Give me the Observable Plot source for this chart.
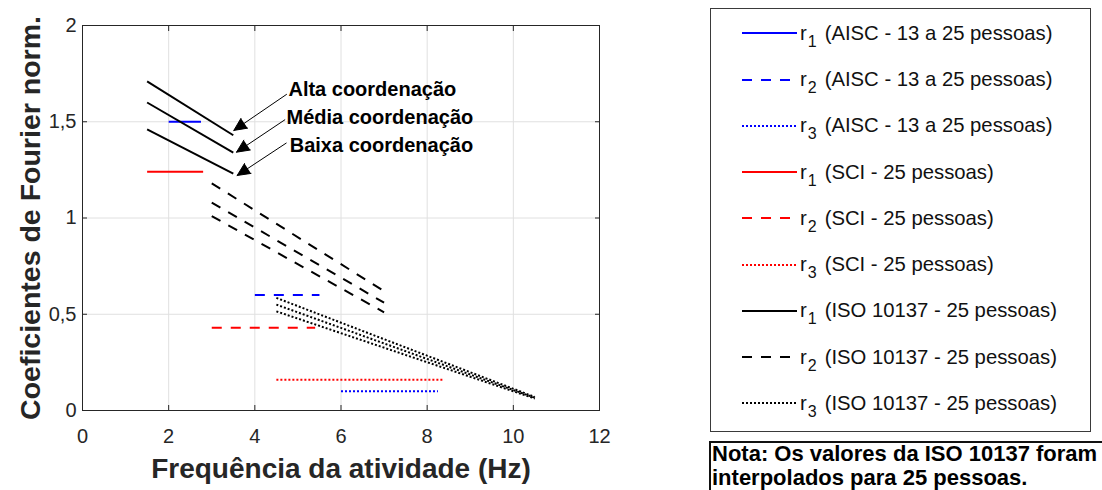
<!DOCTYPE html>
<html><head><meta charset="utf-8">
<script src="https://cdn.jsdelivr.net/npm/d3@7"></script>
<script src="https://cdn.jsdelivr.net/npm/@observablehq/plot@0.6"></script>
<style>
body{margin:0;background:#fff;font-family:"Liberation Sans",Arial,Helvetica,sans-serif;}
#wrap{position:relative;width:1102px;height:490px;overflow:hidden;background:#fff;}
#chart{position:absolute;left:0;top:0;}
#legend{position:absolute;left:710px;top:8px;width:381px;height:424px;border:1px solid #3a3a3a;box-sizing:border-box;background:#fff;}
.row{position:absolute;left:30px;height:46px;display:flex;align-items:center;white-space:nowrap;color:#111;font-size:20.3px;}
.row svg{display:block;margin-right:3px;}
.sub{position:relative;top:7px;font-size:16px;margin-left:1px;margin-right:8px;}
#note{position:absolute;left:709px;top:441px;width:440px;height:60px;border:2px solid #111;box-sizing:border-box;font-weight:bold;font-size:22px;line-height:24px;color:#000;white-space:nowrap;}
#note div{position:relative;top:-1px;left:1px;}
</style></head>
<body><div id="wrap"><div id="chart"></div><div id="legend"></div><div id="note"></div></div>
<script>
// ---- data ----
const xTicks = [0, 2, 4, 6, 8, 10, 12];
const yTicks = [0, 0.5, 1, 1.5, 2];
const xLabel = "Frequência da atividade (Hz)";
const yLabel = "Coeficientes de Fourier norm.";

// AISC (13 a 25 pessoas): faixa de frequência por harmônico e coeficiente
const aiscFreq = [[2, 2.75], [4, 5.5], [6, 8.25]];
const aiscCoef = [1.5, 0.6, 0.1];
// SCI (25 pessoas)
const sciFreq = [[1.5, 2.8], [3, 5.4], [4.5, 8.4]];
const sciCoef = [1.24, 0.43, 0.16];
// ISO 10137 (25 pessoas): frequência inicial/final e coeficientes por nível de coordenação
const isoFreq = [[1.5, 3.5], [3, 7], [4.5, 10.5]];
const isoAlta  = [[1.71, 1.43], [1.18, 0.62], [0.585, 0.07]];
const isoMedia = [[1.60, 1.34], [1.08, 0.56], [0.55, 0.066]];
const isoBaixa = [[1.46, 1.23], [1.01, 0.51], [0.515, 0.062]];

// annotations (data units)
const annLabels = ["Alta coordenação", "Média coordenação", "Baixa coordenação"];
const annX = [4.78, 4.735, 4.81];
const annY = [1.669, 1.522, 1.374];
const arrowFromX = [4.735, 4.696, 4.728];
const arrowFromY = [1.642, 1.510, 1.389];
const arrowToX = [3.512, 3.575, 3.59];
const arrowToY = [1.455, 1.342, 1.221];

// legend
const legendHarmonic = ["1", "2", "3", "1", "2", "3", "1", "2", "3"];
const legendSource = ["(AISC - 13 a 25 pessoas)", "(AISC - 13 a 25 pessoas)", "(AISC - 13 a 25 pessoas)",
  "(SCI - 25 pessoas)", "(SCI - 25 pessoas)", "(SCI - 25 pessoas)",
  "(ISO 10137 - 25 pessoas)", "(ISO 10137 - 25 pessoas)", "(ISO 10137 - 25 pessoas)"];
const noteLines = ["Nota: Os valores da ISO 10137 foram", "interpolados para 25 pessoas."];

// ---- styles ----
const seriesKeys = ["aisc0", "aisc1", "aisc2", "sci0", "sci1", "sci2", "iso0", "iso1", "iso2"];
const seriesColors = ["#0000ff", "#0000ff", "#0000ff", "#ff0000", "#ff0000", "#ff0000", "#000000", "#000000", "#000000"];
const dashByHarmonic = [null, "10,9", "2,2"];

// ---- build table ----
const rows = [];
aiscFreq.forEach((f, h) => f.forEach(x => rows.push({key: "aisc" + h, z: "aisc" + h, x, y: aiscCoef[h]})));
sciFreq.forEach((f, h) => f.forEach(x => rows.push({key: "sci" + h, z: "sci" + h, x, y: sciCoef[h]})));
[isoAlta, isoMedia, isoBaixa].forEach((lvl, li) =>
  isoFreq.forEach((f, h) => f.forEach((x, k) => rows.push({key: "iso" + h, z: `iso${h}-${li}`, x, y: lvl[h][k]}))));

const ann = annLabels.map((t, i) => ({t, x: annX[i], y: annY[i]}));
const arrows = annLabels.map((t, i) => ({x1: arrowFromX[i], y1: arrowFromY[i], x2: arrowToX[i], y2: arrowToY[i]}));

const fmt = d => String(d).replace(".", ",");
const axisColor = "#262626";

const chart = Plot.plot({
  width: 640, height: 490,
  marginLeft: 82, marginRight: 41, marginTop: 25, marginBottom: 80,
  x: {domain: [0, 12]},
  y: {domain: [0, 2]},
  style: {fontFamily: "'Liberation Sans', Arial, sans-serif", fontSize: "20px", color: axisColor, background: "white", overflow: "visible"},
  marks: [
    Plot.gridX(xTicks, {stroke: "#e0e0e0", strokeOpacity: 1}),
    Plot.gridY(yTicks, {stroke: "#e0e0e0", strokeOpacity: 1}),
    ...seriesKeys.map((k, i) => Plot.line(rows.filter(d => d.key === k), {
      x: "x", y: "y", z: "z", stroke: seriesColors[i], strokeWidth: 2,
      strokeDasharray: dashByHarmonic[i % 3], strokeLinecap: "butt"
    })),
    Plot.arrow(arrows, {x1: "x1", y1: "y1", x2: "x2", y2: "y2", stroke: "#000", fill: "#000", strokeWidth: 1, headLength: 21, headAngle: 50}),
    Plot.text(ann, {x: "x", y: "y", text: "t", textAnchor: "start", fontSize: 20, fontWeight: "bold", fill: "#000"}),
    Plot.frame({stroke: axisColor}),
    Plot.axisX(xTicks, {anchor: "bottom", tickSize: 0, tickPadding: 18, fontSize: 20, label: null, tickFormat: fmt}),
    Plot.axisX(xTicks, {anchor: "bottom", tickSize: -5, fill: "none", label: null}),
    Plot.axisX(xTicks, {anchor: "top", tickSize: -5, fill: "none", label: null}),
    Plot.axisY(yTicks, {anchor: "left", tickSize: 0, tickPadding: 6, fontSize: 20, label: null, tickFormat: fmt}),
    Plot.axisY(yTicks, {anchor: "left", tickSize: -5, fill: "none", label: null}),
    Plot.axisY(yTicks, {anchor: "right", tickSize: -5, fill: "none", label: null}),
    Plot.text([xLabel], {frameAnchor: "bottom", dy: 59, lineAnchor: "middle", textAnchor: "middle", fontSize: 28, fontWeight: "bold", fill: axisColor}),
    Plot.text([yLabel], {frameAnchor: "left", dx: -52, rotate: -90, lineAnchor: "middle", textAnchor: "middle", fontSize: 28.5, fontWeight: "bold", fill: axisColor})
  ]
});
document.getElementById("chart").appendChild(chart);

// legend
const legend = d3.select("#legend");
legendSource.forEach((src, i) => {
  const row = legend.append("div").attr("class", "row").style("top", (1.3 + i * 46.25) + "px");
  const svg = row.append("svg").attr("width", 56).attr("height", 10);
  svg.append("line").attr("x1", 1).attr("x2", 56).attr("y1", 5).attr("y2", 5)
    .attr("stroke", seriesColors[i]).attr("stroke-width", 2)
    .attr("stroke-dasharray", dashByHarmonic[i % 3]);
  const t = row.append("span");
  t.append("span").text("r");
  t.append("span").attr("class", "sub").text(legendHarmonic[i]);
  t.append("span").text(src);
});
const note = d3.select("#note");
noteLines.forEach(l => note.append("div").text(l));
</script>
</body></html>
